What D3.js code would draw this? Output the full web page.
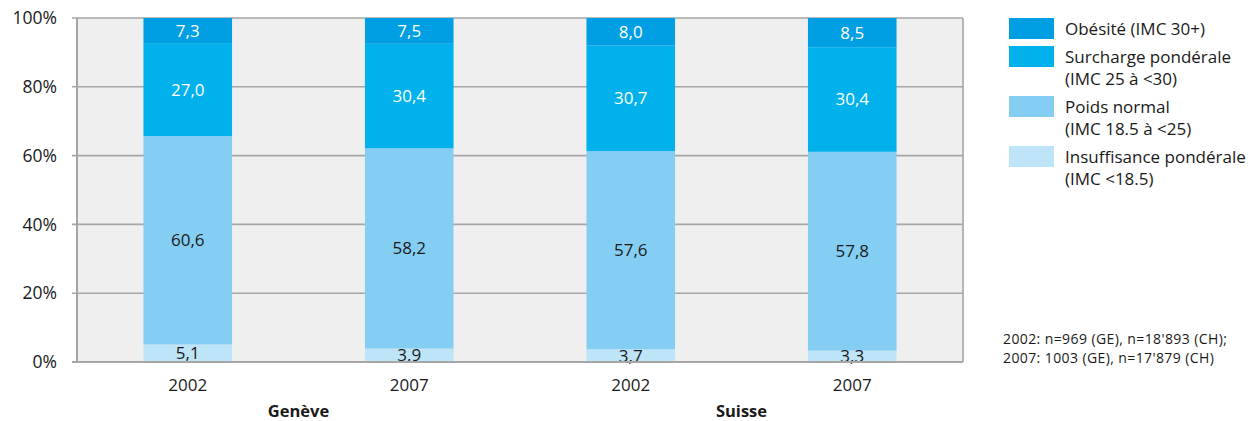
<!DOCTYPE html>
<html>
<head>
<meta charset="utf-8">
<script src="https://cdn.jsdelivr.net/npm/d3@7"></script>
<style>
  body { margin: 0; background: #fff; }
  svg text { font-family: "Open Sans", sans-serif; fill: #1a1a1a; }
</style>
</head>
<body>
<svg id="chart" width="1258" height="421"></svg>
<script>
// data
const bars = ["GE2002", "GE2007", "CH2002", "CH2007"]
const years = ["2002", "2007", "2002", "2007"]
const groups = [{ name: "Genève", members: ["GE2002", "GE2007"] }, { name: "Suisse", members: ["CH2002", "CH2007"] }]

const insuffisance = [5.1, 3.9, 3.7, 3.3]
const poidsNormal = [60.6, 58.2, 57.6, 57.8]
const surcharge = [27.0, 30.4, 30.7, 30.4]
const obesite = [7.3, 7.5, 8.0, 8.5]

const seriesKeys = ["insuffisance", "normal", "surcharge", "obesite"]
const seriesColors = ["#bee4f8", "#84cef4", "#00b1eb", "#009fe3"]
const labelColors = ["#1a1a1a", "#1a1a1a", "#ffffff", "#ffffff"]

const legendItems = [
  { key: "obesite", lines: ["Obésité (IMC 30+)"] },
  { key: "surcharge", lines: ["Surcharge pondérale", "(IMC 25 à <30)"] },
  { key: "normal", lines: ["Poids normal", "(IMC 18.5 à <25)"] },
  { key: "insuffisance", lines: ["Insuffisance pondérale", "(IMC <18.5)"] }
]
const yTicks = [0, 20, 40, 60, 80, 100]
const footnote = ["2002: n=969 (GE), n=18'893 (CH);", "2007: 1003 (GE), n=17'879 (CH)"]

// build table for the stack
const table = bars.map((b, i) => ({
  bar: b,
  insuffisance: insuffisance[i],
  normal: poidsNormal[i],
  surcharge: surcharge[i],
  obesite: obesite[i]
}))

const svg = d3.select("#chart")
const margin = { left: 77, right: 295, top: 18, bottom: 59 }
const width = 1258 - margin.left - margin.right
const height = 421 - margin.top - margin.bottom

const x = d3.scaleBand().domain(bars).range([0, width]).paddingInner(0.6).paddingOuter(0.3)
const y = d3.scaleLinear().domain([0, 100]).range([height, 0])
const color = d3.scaleOrdinal().domain(seriesKeys).range(seriesColors)
const labelColor = d3.scaleOrdinal().domain(seriesKeys).range(labelColors)

const g = svg.append("g").attr("transform", `translate(${margin.left},${margin.top})`)

// plot background
g.append("rect")
  .attr("width", width).attr("height", height)
  .attr("fill", "#efefef")

// gridlines
g.append("g").selectAll("line")
  .data(yTicks)
  .join("line")
  .attr("x1", -5).attr("x2", width)
  .attr("y1", d => y(d)).attr("y2", d => y(d))
  .attr("stroke", "#a6a6a6").attr("stroke-width", 1.6)

// right border
g.append("line")
  .attr("x1", width).attr("x2", width).attr("y1", 0).attr("y2", height)
  .attr("stroke", "#a6a6a6").attr("stroke-width", 1.6)

const stack = d3.stack().keys(seriesKeys)(table)

const layers = g.append("g").selectAll("g")
  .data(stack)
  .join("g")
  .attr("fill", d => color(d.key))

layers.selectAll("rect")
  .data(d => d)
  .join("rect")
  .attr("x", d => x(d.data.bar))
  .attr("width", x.bandwidth())
  .attr("y", d => y(d[1]))
  .attr("height", d => y(d[0]) - y(d[1]))

// value labels
const fmt = v => v.toFixed(1).replace(".", ",")
stack.forEach(layer => {
  g.append("g").selectAll("text")
    .data(layer)
    .join("text")
    .attr("x", d => x(d.data.bar) + x.bandwidth() / 2)
    .attr("y", d => (y(d[0]) + y(d[1])) / 2)
    .attr("dy", "0.35em")
    .attr("text-anchor", "middle")
    .style("font-size", "17px")
    .style("fill", labelColor(layer.key))
    .text(d => fmt(d.data[layer.key]))
})

// left axis line + bottom axis line drawn over bars
g.append("line")
  .attr("x1", 0).attr("x2", 0).attr("y1", 0).attr("y2", height)
  .attr("stroke", "#a6a6a6").attr("stroke-width", 2)
g.append("line")
  .attr("x1", -5).attr("x2", width).attr("y1", height).attr("y2", height)
  .attr("stroke", "#a6a6a6").attr("stroke-width", 2)

// y labels
g.append("g").selectAll("text")
  .data(yTicks)
  .join("text")
  .attr("x", -20)
  .attr("y", d => y(d))
  .attr("dy", "0.35em")
  .attr("text-anchor", "end")
  .style("font-size", "17.5px")
  .text(d => d + "%")

// x labels
g.append("g").selectAll("text")
  .data(bars)
  .join("text")
  .attr("x", d => x(d) + x.bandwidth() / 2)
  .attr("y", height + 29)
  .attr("text-anchor", "middle")
  .style("font-size", "17px")
  .text((d, i) => years[i])

// group labels
g.append("g").selectAll("text")
  .data(groups)
  .join("text")
  .attr("x", d => {
    const a = x(d.members[0]) + x.bandwidth() / 2
    const b = x(d.members[1]) + x.bandwidth() / 2
    return (a + b) / 2
  })
  .attr("y", height + 55)
  .attr("text-anchor", "middle")
  .style("font-size", "16.5px")
  .style("font-weight", "bold")
  .text(d => d.name)

// legend
const legend = svg.append("g").attr("transform", "translate(1009,18)")
let ly = 0
legendItems.forEach(item => {
  const row = legend.append("g").attr("transform", `translate(0,${ly})`)
  row.append("rect")
    .attr("width", 45).attr("height", 21)
    .attr("fill", color(item.key))
  row.selectAll("text")
    .data(item.lines)
    .join("text")
    .attr("x", 56)
    .attr("y", (d, i) => 17 + i * 22)
    .style("font-size", "17px")
    .text(d => d)
  ly += item.lines.length > 1 ? 50 : 28
})

// footnote
svg.append("g").selectAll("text")
  .data(footnote)
  .join("text")
  .attr("x", 1003)
  .attr("y", (d, i) => 344 + i * 19)
  .style("font-size", "14px")
  .style("letter-spacing", "0.4px")
  .text(d => d)
</script>
</body>
</html>
